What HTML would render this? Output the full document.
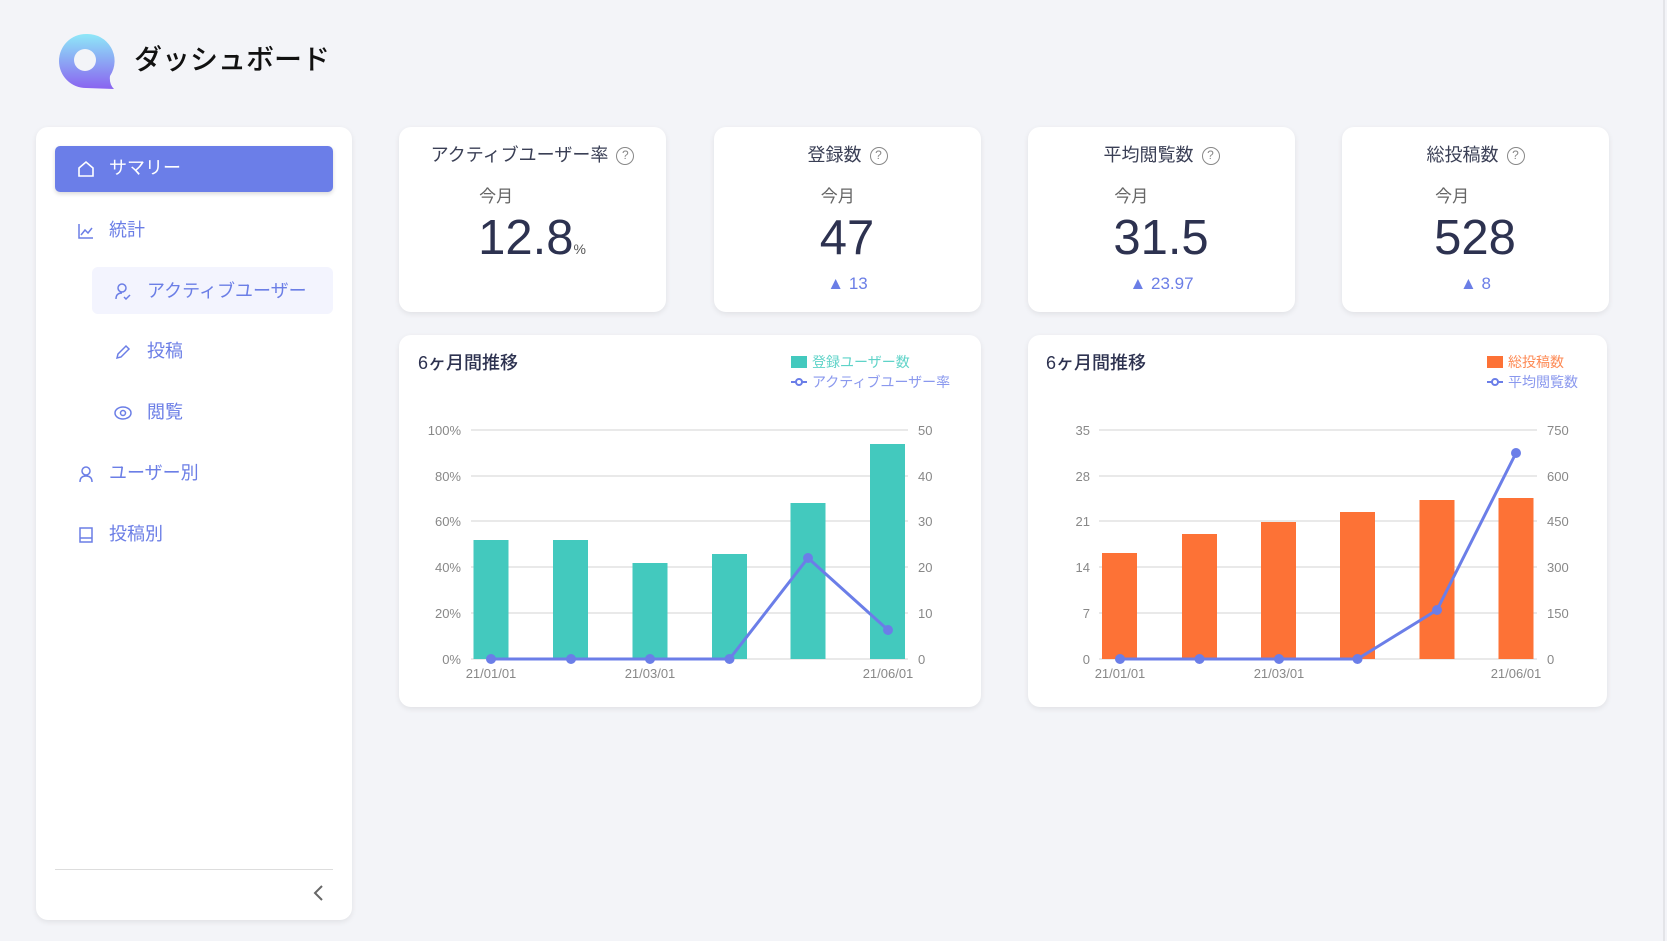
<!DOCTYPE html>
<html><head><meta charset="utf-8"><style>
*{margin:0;padding:0;box-sizing:border-box}
body{width:1667px;height:941px;background:#f3f4f8;font-family:"Liberation Sans","Noto Sans CJK JP",sans-serif;position:relative;overflow:hidden}
.a{position:absolute}
.card{position:absolute;background:#fff;border-radius:12px;box-shadow:0 2px 6px rgba(0,0,0,0.08)}
.nav{position:absolute;font-size:18px;color:#6b7ee6;line-height:20px}
.tc{position:absolute;top:127px;width:267px;height:185px}
.tt{position:absolute;top:143px;width:100%;text-align:center;font-size:18px;color:#3a3f55;line-height:24px}
.q{display:inline-block;width:18px;height:18px;border:1.6px solid #888;border-radius:50%;font-size:12px;line-height:15px;color:#888;text-align:center;vertical-align:2px;margin-left:8px}
.blk{position:absolute;top:184px;left:0;width:100%;text-align:center}
.blk>div{display:inline-block;text-align:left}
.mo{font-size:17px;color:#666;line-height:20px}
.num{font-size:49px;color:#2d3250;line-height:62px;margin-left:-1px}
.up{position:absolute;top:272px;width:100%;text-align:center;font-size:17px;color:#6b7ee6}
</style></head><body>
<div class="a" style="left:1663px;top:0;width:2px;height:941px;background:#e3e4e8"></div>
<svg class="a" style="left:56px;top:32px" width="60" height="60" viewBox="0 0 60 60">
<defs><linearGradient id="lg" x1="0" y1="0" x2="0" y2="1"><stop offset="0" stop-color="#8ee8f8"/><stop offset="1" stop-color="#8a63f0"/></linearGradient></defs>
<path d="M30 2 A27 27 0 1 0 30 56 L58 57 Q53 52 54 44 A27 27 0 0 0 30 2Z" fill="url(#lg)"/>
<circle cx="29" cy="28" r="11" fill="#f3f4f8"/>
</svg>
<div class="a" style="left:134px;top:42px;font-size:28px;color:#111;line-height:36px;font-weight:500">ダッシュボード</div>
<div class="card" style="left:36px;top:127px;width:316px;height:793px"></div>
<div class="a" style="left:55px;top:146px;width:278px;height:46px;background:#6b7ee8;border-radius:5px;box-shadow:0 2px 4px rgba(0,0,0,0.15)"></div>
<svg class="a" style="left:77px;top:160px" width="18" height="18"><path d="M2 8 L9 2 L16 8 V16 H2Z" fill="none" stroke="#fff" stroke-width="1.6"/></svg>
<div class="nav" style="left:109px;top:158px;color:#fff">サマリー</div>
<svg class="a" style="left:77px;top:222px" width="18" height="18"><path d="M2 2V16H16 M4 13 L8 8 L11 11 L15 6" fill="none" stroke="#6b7ee6" stroke-width="1.5"/></svg>
<div class="nav" style="left:109px;top:220px">統計</div>
<div class="a" style="left:92px;top:267px;width:241px;height:47px;background:#f3f4fe;border-radius:6px"></div>
<svg class="a" style="left:114px;top:282px" width="18" height="18"><circle cx="8" cy="6" r="4" fill="none" stroke="#6b7ee6" stroke-width="1.5"/><path d="M2 17 Q2 11 8 11 M10 15 L12 17 L16 13" fill="none" stroke="#6b7ee6" stroke-width="1.5"/></svg>
<div class="nav" style="left:147px;top:281px">アクティブユーザー</div>
<svg class="a" style="left:114px;top:343px" width="18" height="18"><path d="M3 15 L4 11 L12 3 L15 6 L7 14Z" fill="none" stroke="#6b7ee6" stroke-width="1.5"/></svg>
<div class="nav" style="left:147px;top:341px">投稿</div>
<svg class="a" style="left:113px;top:404px" width="20" height="18"><ellipse cx="10" cy="9" rx="8" ry="6" fill="none" stroke="#6b7ee6" stroke-width="1.5"/><circle cx="10" cy="9" r="2.5" fill="none" stroke="#6b7ee6" stroke-width="1.5"/></svg>
<div class="nav" style="left:147px;top:402px">閲覧</div>
<svg class="a" style="left:77px;top:465px" width="18" height="18"><circle cx="9" cy="6" r="4" fill="none" stroke="#6b7ee6" stroke-width="1.5"/><path d="M3 17 Q3 11 9 11 Q15 11 15 17" fill="none" stroke="#6b7ee6" stroke-width="1.5"/></svg>
<div class="nav" style="left:109px;top:463px">ユーザー別</div>
<svg class="a" style="left:77px;top:526px" width="18" height="18"><rect x="3" y="2" width="12" height="14" fill="none" stroke="#6b7ee6" stroke-width="1.5"/><path d="M3 12 H15" stroke="#6b7ee6" stroke-width="1.5"/></svg>
<div class="nav" style="left:109px;top:524px">投稿別</div>
<div class="a" style="left:55px;top:869px;width:278px;height:1px;background:#ddd"></div>
<svg class="a" style="left:312px;top:884px" width="14" height="18"><path d="M10 2 L3 9 L10 16" fill="none" stroke="#666" stroke-width="2"/></svg>
<div class="card tc" style="left:399px"><div class="tt" style="top:16px">アクティブユーザー率<span class="q">?</span></div>
<div class="blk" style="top:60px"><div><div class="mo">今月</div><div class="num">12.8<span style="font-size:14px;color:#555">%</span></div></div></div></div>
<div class="card tc" style="left:714px"><div class="tt" style="top:16px">登録数<span class="q">?</span></div>
<div class="blk" style="top:60px"><div><div class="mo">今月</div><div class="num">47</div></div></div><div class="up" style="top:147px">▲ 13</div></div>
<div class="card tc" style="left:1028px"><div class="tt" style="top:16px">平均閲覧数<span class="q">?</span></div>
<div class="blk" style="top:60px"><div><div class="mo">今月</div><div class="num">31.5</div></div></div><div class="up" style="top:147px">▲ 23.97</div></div>
<div class="card tc" style="left:1342px"><div class="tt" style="top:16px">総投稿数<span class="q">?</span></div>
<div class="blk" style="top:60px"><div><div class="mo">今月</div><div class="num">528</div></div></div><div class="up" style="top:147px">▲ 8</div></div>
<div class="card" style="left:399px;top:335px;width:582px;height:372px"></div>
<div class="card" style="left:1028px;top:335px;width:579px;height:372px"></div>
<svg class="a" style="left:0;top:0" width="1667" height="941" font-family="Liberation Sans, Noto Sans CJK JP, sans-serif">
<g font-size="18" fill="#2d3250" font-weight="500"><text x="418" y="369">6ヶ月間推移</text><text x="1046" y="369">6ヶ月間推移</text></g>
<g stroke="#e2e2e2" stroke-width="1.5"><path d="M471 430H908M471 476H908M471 521H908M471 567H908M471 613H908M471 659H908"/><path d="M1099 430H1537M1099 476H1537M1099 521H1537M1099 567H1537M1099 613H1537M1099 659H1537"/></g>
<g font-size="13" fill="#888" text-anchor="end"><text x="461" y="435">100%</text><text x="461" y="481">80%</text><text x="461" y="526">60%</text><text x="461" y="572">40%</text><text x="461" y="618">20%</text><text x="461" y="664">0%</text>
<text x="1090" y="435">35</text><text x="1090" y="481">28</text><text x="1090" y="526">21</text><text x="1090" y="572">14</text><text x="1090" y="618">7</text><text x="1090" y="664">0</text></g>
<g font-size="13" fill="#888"><text x="918" y="435">50</text><text x="918" y="481">40</text><text x="918" y="526">30</text><text x="918" y="572">20</text><text x="918" y="618">10</text><text x="918" y="664">0</text>
<text x="1547" y="435">750</text><text x="1547" y="481">600</text><text x="1547" y="526">450</text><text x="1547" y="572">300</text><text x="1547" y="618">150</text><text x="1547" y="664">0</text></g>
<g font-size="13" fill="#888" text-anchor="middle"><text x="491" y="678">21/01/01</text><text x="650" y="678">21/03/01</text><text x="888" y="678">21/06/01</text>
<text x="1120" y="678">21/01/01</text><text x="1279" y="678">21/03/01</text><text x="1516" y="678">21/06/01</text></g>
<g fill="#43c9be"><rect x="473.5" y="540" width="35" height="119"/><rect x="553" y="540" width="35" height="119"/><rect x="632.5" y="563" width="35" height="96"/><rect x="712" y="554" width="35" height="105"/><rect x="790.5" y="503" width="35" height="156"/><rect x="870" y="444" width="35" height="215"/></g>
<polyline points="491,659 571,659 650,659 729.5,659 808,558 888,630" fill="none" stroke="#6b7ee8" stroke-width="3"/>
<g fill="#6b7ee8"><circle cx="491" cy="659" r="5"/><circle cx="571" cy="659" r="5"/><circle cx="650" cy="659" r="5"/><circle cx="729.5" cy="659" r="5"/><circle cx="808" cy="558" r="5"/><circle cx="888" cy="630" r="5"/></g>
<rect x="791" y="356" width="16" height="12" fill="#43c9be"/><text x="812" y="367" font-size="14" fill="#5fd3c8">登録ユーザー数</text>
<path d="M791 382H807" stroke="#6b7ee8" stroke-width="2"/><circle cx="799" cy="382" r="3" fill="#fff" stroke="#6b7ee8" stroke-width="2"/><text x="812" y="387" font-size="14" fill="#8a98ee">アクティブユーザー率</text>
<g fill="#fd7236"><rect x="1102" y="553" width="35" height="106"/><rect x="1182" y="534" width="35" height="125"/><rect x="1261" y="522" width="35" height="137"/><rect x="1340" y="512" width="35" height="147"/><rect x="1419.5" y="500" width="35" height="159"/><rect x="1498.5" y="498" width="35" height="161"/></g>
<polyline points="1120,659 1199.5,659 1279,659 1357.5,659 1437,610 1516,453" fill="none" stroke="#6b7ee8" stroke-width="3"/>
<g fill="#6b7ee8"><circle cx="1120" cy="659" r="5"/><circle cx="1199.5" cy="659" r="5"/><circle cx="1279" cy="659" r="5"/><circle cx="1357.5" cy="659" r="5"/><circle cx="1437" cy="610" r="5"/><circle cx="1516" cy="453" r="5"/></g>
<rect x="1487" y="356" width="16" height="12" fill="#fd7236"/><text x="1508" y="367" font-size="14" fill="#fd8a55">総投稿数</text>
<path d="M1487 382H1503" stroke="#6b7ee8" stroke-width="2"/><circle cx="1495" cy="382" r="3" fill="#fff" stroke="#6b7ee8" stroke-width="2"/><text x="1508" y="387" font-size="14" fill="#8a98ee">平均閲覧数</text>
</svg>
</body></html>
